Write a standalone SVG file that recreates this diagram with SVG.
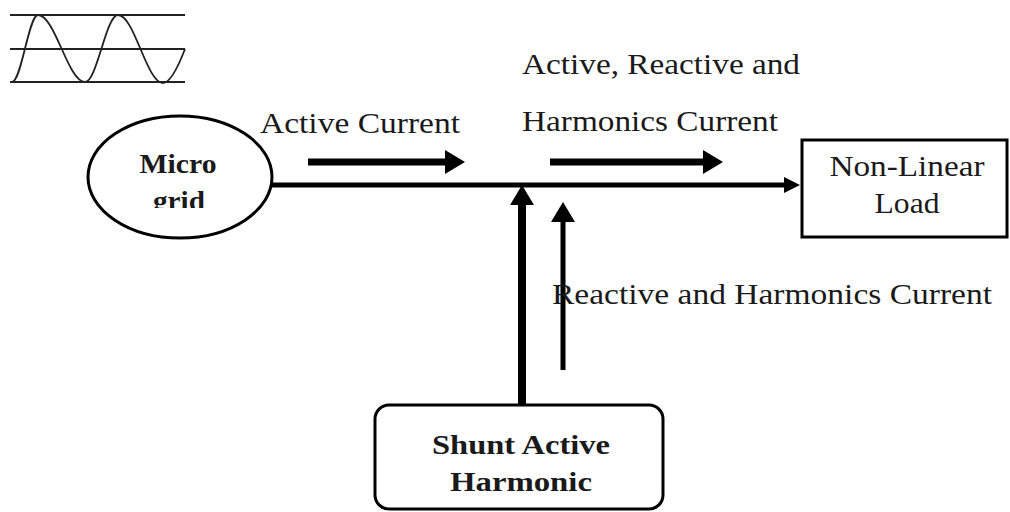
<svg xmlns="http://www.w3.org/2000/svg" width="1010" height="512" viewBox="0 0 1010 512">
  <style>
    .txt { font-family: "Liberation Serif", "Times New Roman", serif; font-size: 29px; fill: #1a1a1a; }
    .bold { font-weight: bold; font-size: 27px; }
    .shape { fill: #ffffff; stroke: #000000; stroke-width: 3; }
    .wire { stroke: #000000; fill: none; stroke-linecap: butt; }
    .wave { stroke: #222222; stroke-width: 1.8; fill: none; }
  </style>
  <defs>
    <marker id="arrowL" viewBox="0 0 20 24" refX="10" refY="12" markerWidth="20" markerHeight="24" markerUnits="userSpaceOnUse" orient="auto">
      <path d="M0,0 L20,12 L0,24 z" fill="#000"/>
    </marker>
    <marker id="arrowS" viewBox="0 0 16 16" refX="8" refY="8" markerWidth="16" markerHeight="16" markerUnits="userSpaceOnUse" orient="auto">
      <path d="M0,0 L16,8 L0,16 z" fill="#000"/>
    </marker>
    <clipPath id="gridClip">
      <rect x="100" y="180" width="160" height="28"/>
    </clipPath>
  </defs>
  <rect width="1010" height="512" fill="#ffffff"/>

  <g id="sine-icon">
    <line class="wave" x1="10" y1="15" x2="185" y2="15"/>
    <line class="wave" x1="10" y1="49" x2="185" y2="49"/>
    <line class="wave" x1="10" y1="82" x2="185" y2="82"/>
    <path class="wave" d="M12,82 C21.5,82 28.5,15 38,15 C55,15 68,82 85,82 C97,82 106,15 118,15 C134.4,15 146.6,83 163,83 C171,83 180,62 185,49"/>
  </g>

  <g id="connectors">
    <line class="wire" x1="272" y1="185" x2="792" y2="185" stroke-width="5" marker-end="url(#arrowS)"/>
    <line class="wire" x1="308" y1="162" x2="455" y2="162" stroke-width="7" marker-end="url(#arrowL)"/>
    <line class="wire" x1="550" y1="162" x2="713" y2="162" stroke-width="7" marker-end="url(#arrowL)"/>
    <line class="wire" x1="522" y1="404" x2="522" y2="195" stroke-width="8" marker-end="url(#arrowL)"/>
    <line class="wire" x1="563" y1="370" x2="563" y2="212" stroke-width="5" marker-end="url(#arrowL)"/>
  </g>

  <g id="microgrid">
    <ellipse class="shape" cx="180" cy="177" rx="92" ry="61"/>
    <text class="txt bold" x="178" y="173" text-anchor="middle" textLength="77" lengthAdjust="spacingAndGlyphs">Micro</text>
    <text class="txt bold" x="179" y="210" text-anchor="middle" textLength="52" lengthAdjust="spacingAndGlyphs" clip-path="url(#gridClip)">grid</text>
  </g>

  <g id="nonlinear-load">
    <rect class="shape" x="802" y="140" width="205" height="97"/>
    <text class="txt" x="907" y="176" text-anchor="middle" textLength="155" lengthAdjust="spacingAndGlyphs">Non-Linear</text>
    <text class="txt" x="907" y="213" text-anchor="middle" textLength="65" lengthAdjust="spacingAndGlyphs">Load</text>
  </g>

  <g id="shunt-filter">
    <rect class="shape" x="375" y="405" width="288" height="104" rx="14" ry="14"/>
    <text class="txt bold" x="521" y="454" text-anchor="middle" textLength="178" lengthAdjust="spacingAndGlyphs">Shunt Active</text>
    <text class="txt bold" x="521" y="491" text-anchor="middle" textLength="142" lengthAdjust="spacingAndGlyphs">Harmonic</text>
  </g>

  <g id="labels">
    <text class="txt" x="260" y="133" textLength="200" lengthAdjust="spacingAndGlyphs">Active Current</text>
    <text class="txt" x="522" y="74" textLength="278" lengthAdjust="spacingAndGlyphs">Active, Reactive and</text>
    <text class="txt" x="522" y="131" textLength="256" lengthAdjust="spacingAndGlyphs">Harmonics Current</text>
    <text class="txt" x="552" y="304" textLength="440" lengthAdjust="spacingAndGlyphs">Reactive and Harmonics Current</text>
  </g>
</svg>
